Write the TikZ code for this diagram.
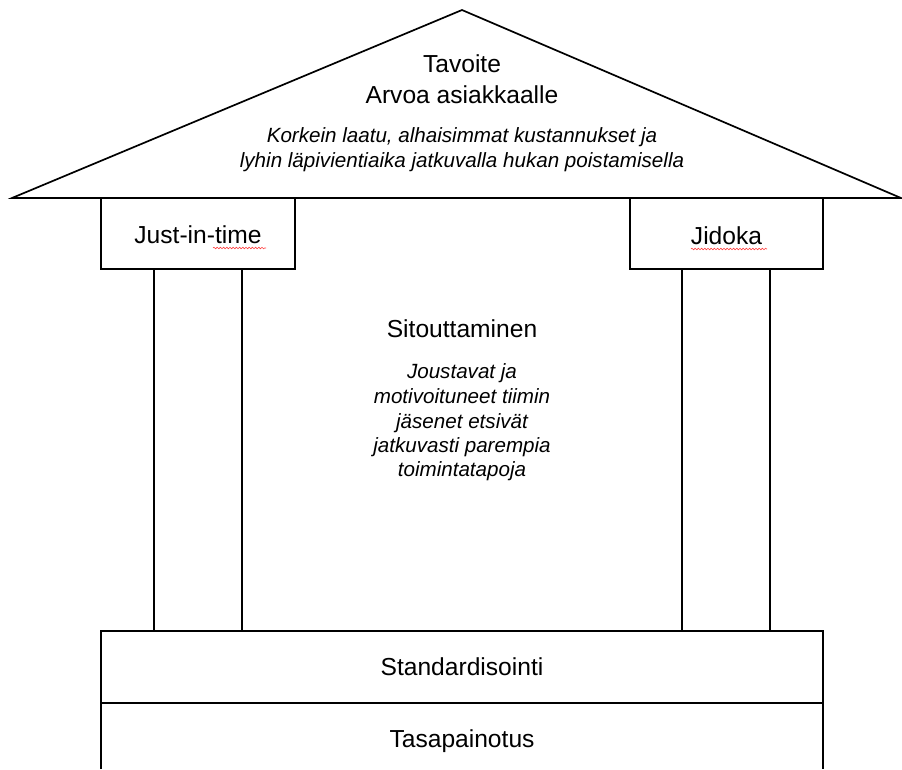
\documentclass[tikz,border=0pt]{standalone}
\usepackage{fontspec}
\setmainfont{Liberation Sans}
\usetikzlibrary{decorations.pathmorphing}
\tikzset{
  wall/.style={draw=black, line width=1.7pt, line join=miter},
  headtext/.style={anchor=base, inner sep=0pt, font=\fontsize{24.6}{28}\selectfont},
  notetext/.style={anchor=base, inner sep=0pt, align=center,
    font=\fontsize{20.6}{24.6}\selectfont\itshape},
  spellmark/.style={draw=red!75, line width=0.6pt,
    decorate, decoration={snake, segment length=3.2pt, amplitude=0.8pt}}
}
\begin{document}
\begin{tikzpicture}[x=1pt, y=-1pt]
  \useasboundingbox (0,0) rectangle (902,769);

  % roof
  \coordinate (apex) at (462,10);
  \coordinate (eaveL) at (12,198);
  \coordinate (eaveR) at (901,198);
  \draw[wall] (eaveL) -- (apex) -- (eaveR) -- cycle;

  % capitals of the two pillars
  \draw[wall] (101,198) rectangle (295,269);
  \draw[wall] (630,198) rectangle (823,269);

  % pillar shafts
  \draw[wall] (154,269) -- (154,631);
  \draw[wall] (242,269) -- (242,631);
  \draw[wall] (682,269) -- (682,631);
  \draw[wall] (770,269) -- (770,631);

  % foundation
  \draw[wall] (101,769) -- (101,631) -- (823,631) -- (823,769);
  \draw[wall] (101,703) -- (823,703);

  % roof texts
  \node[headtext] (goal) at (462,72) {Tavoite};
  \node[headtext] (value) at (462,103) {Arvoa asiakkaalle};
  \node[notetext] (aim1) at (462,142) {Korkein laatu, alhaisimmat kustannukset ja};
  \node[notetext] (aim2) at (462,167) {lyhin läpivientiaika jatkuvalla hukan poistamisella};

  % pillar texts
  \node[headtext] (jit) at (198,243) {Just-in-time};
  \node[headtext] (jidoka) at (726.5,244) {Jidoka};
  \draw[spellmark] (213,248) -- (266,248);
  \draw[spellmark] (691,249) -- (767,249);

  % middle texts
  \node[headtext] (commit) at (462,337) {Sitouttaminen};
  \node[notetext] (team1) at (462,378) {Joustavat ja};
  \node[notetext] (team2) at (462,403) {motivoituneet tiimin};
  \node[notetext] (team3) at (462,428) {jäsenet etsivät};
  \node[notetext] (team4) at (462,452) {jatkuvasti parempia};
  \node[notetext] (team5) at (462,476) {toimintatapoja};

  % foundation texts
  \node[headtext] (std) at (462,675) {Standardisointi};
  \node[headtext] (bal) at (462,747) {Tasapainotus};
\end{tikzpicture}
\end{document}
